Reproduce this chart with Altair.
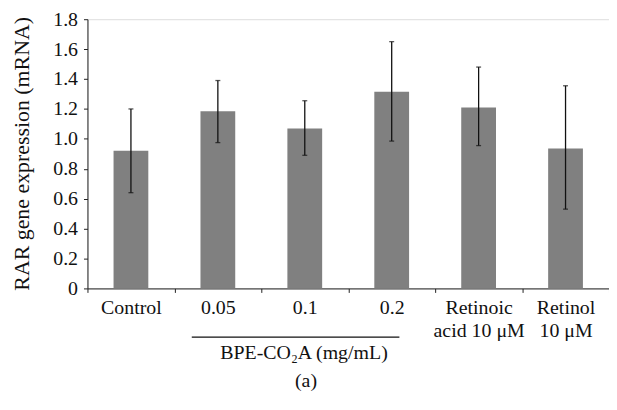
import altair as alt
import pandas as pd

categories = ["Control", "0.05", "0.1", "0.2", "Retinoic\nacid 10 μM", "Retinol\n10 μM"]
means = [0.92, 1.185, 1.07, 1.315, 1.21, 0.935]
err_low = [0.64, 0.975, 0.89, 0.985, 0.955, 0.53]
err_high = [1.20, 1.39, 1.255, 1.65, 1.48, 1.355]
y_ticks = [0, 0.2, 0.4, 0.6, 0.8, 1.0, 1.2, 1.4, 1.6, 1.8]
y_title = "RAR gene expression (mRNA)"
group_label = "BPE-CO₂A (mg/mL)"
panel_label = "(a)"

df = pd.DataFrame({"cat": categories, "mean": means, "lo": err_low, "hi": err_high})

FONT = "Liberation Serif"
FS = 20

x_scale = alt.Scale(paddingInner=0, paddingOuter=0)
x_axis = alt.Axis(
    title=None,
    labelAngle=0,
    labelExpr="split(datum.label, '\\n')",
    tickBand="extent",
    tickSize=4,
    labelPadding=5,
    labelFont=FONT,
    labelFontSize=FS,
    labelColor="#111",
    labelLineHeight=23,
    labelOverlap=False,
    domainColor="#222",
    tickColor="#222",
)

y_scale = alt.Scale(domain=[0, 1.8], nice=False, zero=True)
y_axis = alt.Axis(
    title=y_title,
    values=y_ticks,
    labelExpr="datum.value == 0 ? '0' : format(datum.value, '.1f')",
    grid=False,
    tickSize=4,
    labelPadding=6,
    labelOverlap=False,
    labelFlush=False,
    labelFont=FONT,
    labelFontSize=FS,
    labelColor="#111",
    titleFont=FONT,
    titleFontSize=22,
    titleFontWeight="normal",
    titleColor="#111",
    titleX=-66,
    titleY=135,
    titleAngle=270,
    titleAlign="center",
    titleBaseline="middle",
    domainColor="#222",
    tickColor="#222",
)


def X():
    return alt.X("cat:N", sort=categories, scale=x_scale, axis=x_axis)


def Y(field):
    return alt.Y(field, scale=y_scale, axis=y_axis)


base = alt.Chart(df)

bars = base.mark_bar(color="#808080", width=alt.RelativeBandSize(0.4)).encode(
    x=X(), y=Y("mean:Q")
)

rules = base.mark_rule(color="#111", strokeWidth=1.3).encode(
    x=X(), y=Y("lo:Q"), y2="hi:Q"
)

cap_lo = base.mark_tick(color="#111", size=5, thickness=1.3).encode(
    x=X(), y=Y("lo:Q")
)
cap_hi = base.mark_tick(color="#111", size=5, thickness=1.3).encode(
    x=X(), y=Y("hi:Q")
)

bracket = alt.Chart(pd.DataFrame({"t": [group_label]})).mark_rule(
    color="#111", strokeWidth=1.2
).encode(x=alt.value(105), x2=alt.value(314), y=alt.value(320))

group_text = alt.Chart(pd.DataFrame({"t": [group_label]})).mark_text(
    font=FONT, fontSize=FS, color="#111", align="center", baseline="middle"
).encode(text="t:N", x=alt.value(218), y=alt.value(336))

panel_text = alt.Chart(pd.DataFrame({"t": [panel_label]})).mark_text(
    font=FONT, fontSize=FS, color="#111", align="center", baseline="middle"
).encode(text="t:N", x=alt.value(220), y=alt.value(364))

chart = (
    alt.layer(bars, rules, cap_lo, cap_hi, bracket, group_text, panel_text)
    .properties(
        width=525,
        height=271,
        autosize=alt.AutoSizeParams(type="none"),
        padding={"left": 80, "top": 10, "right": 0, "bottom": 105},
    )
    .configure_view(stroke=None)
    .configure(background="white")
)

chart.save("out.html", embed_options={"renderer": "svg", "actions": False})
